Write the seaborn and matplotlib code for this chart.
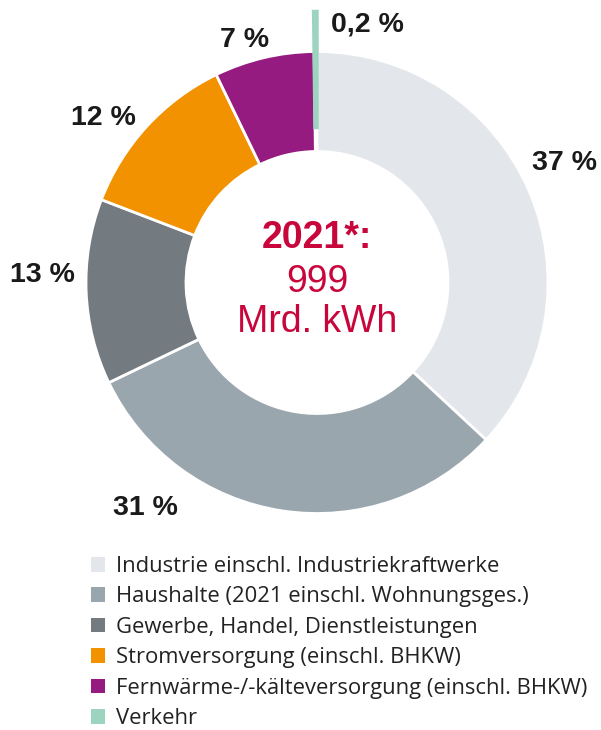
import matplotlib
matplotlib.use("Agg")
import matplotlib.pyplot as plt
from matplotlib.patches import Patch
import seaborn as sns
import numpy as np

categories = [
    "Industrie einschl. Industriekraftwerke",
    "Haushalte (2021 einschl. Wohnungsges.)",
    "Gewerbe, Handel, Dienstleistungen",
    "Stromversorgung (einschl. BHKW)",
    "Fernwärme-/-kälteversorgung (einschl. BHKW)",
    "Verkehr",
]
shares = [37, 31, 13, 12, 7, 0.2]
share_labels = ["37 %", "31 %", "13 %", "12 %", "7 %", "0,2 %"]
center_lines = ["2021*:", "999", "Mrd. kWh"]

colors = ["#E3E7EB", "#9AA6AD", "#737B80", "#F39200", "#951B81", "#9DD4C0"]

sns.set_theme(style="white")
plt.rcParams["font.family"] = ["Liberation Sans", "DejaVu Sans"]

W, H = 601, 730
fig = plt.figure(figsize=(W / 100, H / 100), dpi=100)
ax = fig.add_axes([0, 0, 1, 1])

cx, cy = 317, H - 282.5
R = 231
ring = 100

wedges, _ = ax.pie(shares, colors=colors, startangle=90, counterclock=False,
                   center=(cx, cy), radius=R, frame=True,
                   wedgeprops=dict(width=ring, edgecolor="white", linewidth=2))
ax.set_xlim(0, W)
ax.set_ylim(0, H)
ax.set_aspect("equal")
ax.axis("off")

# the tiny Verkehr share is drawn as a protruding teal line
vk = wedges[-1]
vk.set_radius(R + 40)
vk.set_width(116)
vk.set_edgecolor(colors[-1])
vk.set_linewidth(2.5)
vk.set_zorder(3)

label_pos = [(565, 163), (145, 508), (42, 275), (103, 118), (245, 40), (367, 25)]
for (x, y), t in zip(label_pos, share_labels):
    ax.text(x, H - y, t, ha="center", va="center", fontsize=20.5,
            fontweight="bold", color="#1a1a1a")

red = "#C8063C"
ax.text(cx, H - 238, center_lines[0], ha="center", va="center", fontsize=27,
        fontweight="bold", color=red)
ax.text(cx, H - 282, center_lines[1], ha="center", va="center", fontsize=27,
        color=red)
ax.text(cx, H - 322, center_lines[2], ha="center", va="center", fontsize=27,
        color=red)

handles = [Patch(facecolor=c, edgecolor="none") for c in colors]
leg = fig.legend(handles, categories, loc="upper left",
                 bbox_to_anchor=(91 / W, 1 - 556 / H), frameon=False,
                 prop={"family": "Open Sans", "size": 15.8},
                 handlelength=0.65, handleheight=0.65, handletextpad=0.5,
                 labelspacing=0.43, borderpad=0, borderaxespad=0)
for t in leg.get_texts():
    t.set_color("#222222")

fig.savefig("out.png", dpi=100)
